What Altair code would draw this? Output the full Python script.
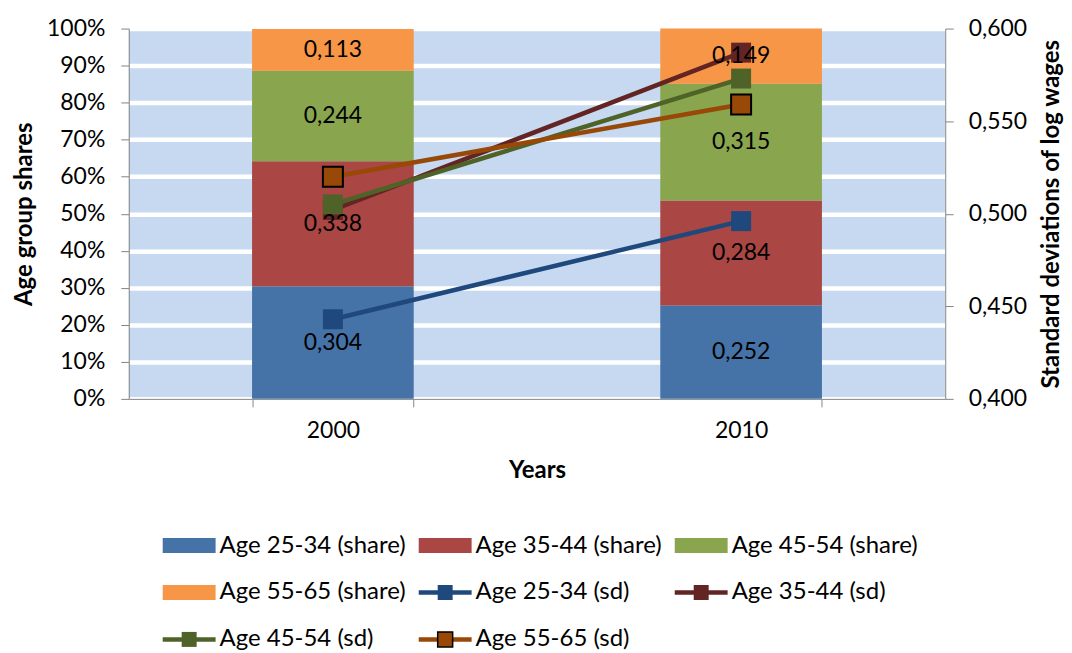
import altair as alt
import pandas as pd

years = ["2000", "2010"]
groups = ["Age 25-34", "Age 35-44", "Age 45-54", "Age 55-65"]
share_2000 = [0.304, 0.338, 0.244, 0.113]
share_2010 = [0.252, 0.284, 0.315, 0.149]
sd_2000 = [0.443, 0.502, 0.505, 0.520]
sd_2010 = [0.496, 0.587, 0.573, 0.559]

bar_colors = ["#4572A7", "#AA4643", "#89A54E", "#F79646"]
line_colors = ["#1F497D", "#632523", "#4F6228", "#984807"]

legend_labels = [
    "Age 25-34 (share)", "Age 35-44 (share)", "Age 45-54 (share)",
    "Age 55-65 (share)", "Age 25-34 (sd)", "Age 35-44 (sd)",
    "Age 45-54 (sd)", "Age 55-65 (sd)",
]
legend_kinds = ["share"] * 4 + ["sd"] * 4
legend_colors = bar_colors + line_colors

FONT = "Lato"
FS = 23
LFS = 24
TFS = 24
GRAY = "#868686"

share_df = pd.DataFrame(
    [{"Year": y, "group": g, "order": i, "share": vals[i]}
     for y, vals in zip(years, [share_2000, share_2010])
     for i, g in enumerate(groups)]
)
sd_df = pd.DataFrame(
    [{"Year": y, "group": g, "order": i, "sd": vals[i]}
     for y, vals in zip(years, [sd_2000, sd_2010])
     for i, g in enumerate(groups)]
)
leg_df = pd.DataFrame(
    {"label": legend_labels, "kind": legend_kinds, "idx": list(range(len(legend_labels)))}
)

xscale = alt.Scale(domain=years, paddingInner=0.604, paddingOuter=0.302)

bars = alt.Chart(share_df).mark_bar().encode(
    x=alt.X("Year:N", scale=xscale, sort=years,
            axis=alt.Axis(title="Years", tickBand="extent", labelAngle=0,
                          domainColor=GRAY, tickColor=GRAY, tickSize=8,
                          labelPadding=13, titlePadding=16, grid=False,
                          labelFontSize=FS, titleFontSize=TFS, labelFont=FONT,
                          titleFont=FONT, titleFontWeight="bold",
                          labelColor="black", titleColor="black")),
    y=alt.Y("share:Q", stack="zero",
            scale=alt.Scale(domain=[0, 1], nice=False),
            axis=alt.Axis(title="Age group shares", format=".0%",
                          values=[i / 10 for i in range(11)],
                          domainColor=GRAY, tickColor=GRAY, tickSize=8,
                          labelPadding=16, titlePadding=10,
                          grid=True, gridColor="white", gridWidth=4.5,
                          labelFontSize=FS, titleFontSize=TFS, labelFont=FONT,
                          titleFont=FONT, titleFontWeight="bold",
                          labelColor="black", titleColor="black")),
    color=alt.Color("group:N", scale=alt.Scale(domain=groups, range=bar_colors), legend=None),
    order=alt.Order("order:Q"),
)

right_axis = alt.Axis(title="Standard deviations of log wages", orient="right",
                      values=[0.4, 0.45, 0.5, 0.55, 0.6],
                      labelExpr="replace(format(datum.value, '.3f'), '.', ',')",
                      domainColor=GRAY, tickColor=GRAY, tickSize=8,
                      labelPadding=15, titlePadding=13, grid=False,
                      titleAngle=270, titleBaseline="top",
                      labelFontSize=FS, titleFontSize=TFS, labelFont=FONT,
                      titleFont=FONT, titleFontWeight="bold",
                      labelColor="black", titleColor="black")
sd_scale = alt.Scale(domain=[0.4, 0.6], nice=False, zero=False)

lines = alt.Chart(sd_df).mark_line(strokeWidth=4.5).encode(
    x=alt.X("Year:N", scale=xscale, sort=years, axis=None),
    y=alt.Y("sd:Q", scale=sd_scale, axis=right_axis),
    color=alt.Color("group:N", scale=alt.Scale(domain=groups, range=line_colors), legend=None),
    detail="group:N",
    order=alt.Order("Year:N"),
)

markers = alt.Chart(sd_df).mark_square(size=400, opacity=1, stroke="black").encode(
    x=alt.X("Year:N", scale=xscale, sort=years, axis=None),
    y=alt.Y("sd:Q", scale=sd_scale, axis=right_axis),
    fill=alt.Fill("group:N", scale=alt.Scale(domain=groups, range=line_colors), legend=None),
    strokeWidth=alt.condition("datum.group == 'Age 55-65'", alt.value(2), alt.value(0)),
    order=alt.Order("order:Q"),
)

line_layer = alt.layer(lines, markers)

labels = alt.Chart(share_df).transform_stack(
    stack="share", groupby=["Year"], as_=["y0", "y1"], sort=[alt.SortField("order")]
).transform_calculate(
    mid="(datum.y0 + datum.y1) / 2",
    lbl="replace(format(datum.share, '.3f'), '.', ',')",
).mark_text(font=FONT, fontSize=FS, color="black").encode(
    x=alt.X("Year:N", scale=xscale, sort=years, axis=None),
    y=alt.Y("mid:Q", scale=alt.Scale(domain=[0, 1], nice=False), axis=None),
    text="lbl:N",
)

# legend
lx = alt.Scale(domain=[0, 3], range=[34, 803.5], zero=False, nice=False)
ly = alt.Scale(domain=[0, 2], range=[518, 612], zero=False, nice=False)
lcol = alt.Color("label:N", scale=alt.Scale(domain=legend_labels, range=legend_colors), legend=None)

leg_base = alt.Chart(leg_df).transform_calculate(
    col="datum.idx % 3",
    row="floor(datum.idx / 3)",
    colEnd="datum.idx % 3 + 0.2066",
    colMid="datum.idx % 3 + 0.1033",
)

swatch = leg_base.transform_filter("datum.kind == 'share'").mark_rule(
    strokeWidth=15, strokeCap="butt"
).encode(
    x=alt.X("col:Q", scale=lx, axis=None), x2="colEnd:Q",
    y=alt.Y("row:Q", scale=ly, axis=None), color=lcol,
)
lrule = leg_base.transform_filter("datum.kind == 'sd'").mark_rule(
    strokeWidth=4.5, strokeCap="butt"
).encode(
    x=alt.X("col:Q", scale=lx, axis=None), x2="colEnd:Q",
    y=alt.Y("row:Q", scale=ly, axis=None), color=lcol,
)
lsq = leg_base.transform_filter("datum.kind == 'sd'").mark_square(
    size=225, opacity=1, stroke="black"
).encode(
    x=alt.X("colMid:Q", scale=lx, axis=None),
    y=alt.Y("row:Q", scale=ly, axis=None),
    fill=alt.Fill("label:N", scale=alt.Scale(domain=legend_labels, range=legend_colors), legend=None),
    strokeWidth=alt.condition("datum.label == 'Age 55-65 (sd)'", alt.value(1.5), alt.value(0)),
)
ltext = leg_base.mark_text(align="left", baseline="middle", dx=57, font=FONT,
                           fontSize=LFS, color="black").encode(
    x=alt.X("col:Q", scale=lx, axis=None),
    y=alt.Y("row:Q", scale=ly, axis=None),
    text="label:N",
)
legend_layer = alt.layer(swatch, lrule, lsq, ltext)

chart = alt.layer(bars, line_layer, labels, legend_layer).resolve_scale(
    x="independent", y="independent", color="independent",
    fill="independent", strokeWidth="independent",
).properties(
    width=818, height=371,
    padding={"left": 4, "top": 9, "right": 0, "bottom": 0},
).configure_view(
    fill="#C6D9F1", strokeWidth=0
)

chart.save("out.html", embed_options={"renderer": "svg", "actions": False})
